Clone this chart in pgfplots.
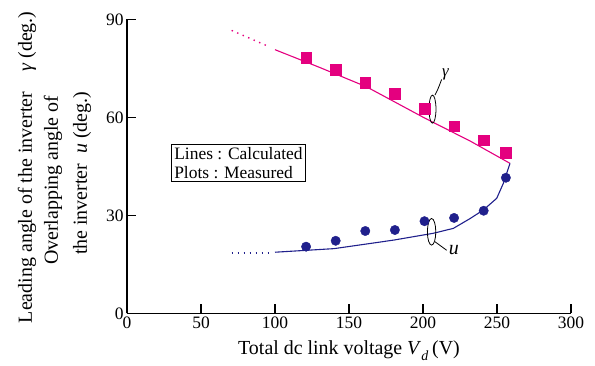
\documentclass[border=0pt]{standalone}
\usepackage{pgfplots}
\pgfplotsset{compat=1.18}
\usepackage{fontspec}
\setmainfont{Liberation Serif}
\definecolor{mag}{RGB}{228,0,127}
\definecolor{navy}{RGB}{32,32,140}
\begin{document}
\begin{tikzpicture}[x=1bp,y=1bp]
\useasboundingbox (-127,-51.7) rectangle (468,313.3);
\begin{axis}[
  at={(0,0)}, anchor=south west,
  scale only axis, width=444bp, height=294bp,
  xmin=0, xmax=300, ymin=0, ymax=90,
  axis lines=left, axis line style={line width=1.3pt,-},
  xtick={0,50,...,300}, ytick={0,30,60,90},
  tick style={line width=1.3pt, black},
  major tick length=9bp,
  tick align=inside,
  tick label style={font=\fontsize{17.5}{20}\selectfont},
  /pgf/number format/assume math mode=true,
  xlabel={Total dc link voltage \textit{V}\raisebox{-0.35ex}{\textsubscript{\textit{d}}}\,(V)},
  xlabel style={font=\fontsize{20}{24}\selectfont, yshift=-5bp},
  clip=false,
]
% calculated gamma
\addplot[mag, line width=1.1pt] coordinates {(100,80.7) (130,75.3) (162,69.3) (201,59.8) (232,52.7) (258.8,45.9)};
\addplot[mag, line width=1.4pt, dash pattern=on 1.4pt off 4.6pt] coordinates {(70.7,86.6) (96.6,81.5)};
% calculated u
\addplot[navy, line width=1.1pt] coordinates {(100,18.7) (140,19.8) (180,22.4) (207,24.5) (220.5,26) (231.8,29.0) (240.7,31.6) (249.8,35.2) (254.3,39.8) (258.8,45.9)};
\addplot[navy, line width=1.4pt, dash pattern=on 1.4pt off 4.6pt] coordinates {(70.7,18.5) (96.6,18.5)};
% measured gamma
\addplot[only marks, mark=square*, mark size=5.3bp, mag, mark options={fill=mag, draw=mag}] coordinates {(121,78.3) (141,74.6) (161,70.6) (181,67.3) (201,62.7) (221,57.3) (241,53.0) (256,49.2)};
% measured u
\addplot[only marks, mark=*, mark size=4.7bp, navy, mark options={fill=navy, draw=navy}] coordinates {(121,20.4) (141,22.2) (161,25.2) (181,25.5) (201,28.2) (221,29.2) (241,31.4) (256,41.5)};
% annotations
\draw[line width=0.8pt] (axis cs:206.4,62.5) ellipse [x radius=3.5bp, y radius=14bp];
\draw[line width=0.8pt] (axis cs:208.1,66.8) .. controls (axis cs:210,68.5) .. (axis cs:212.6,71.6);
\node[font=\fontsize{17}{20}\selectfont\itshape, inner sep=0pt] at (axis cs:215.2,73.2) {γ};
\draw[line width=0.8pt] (axis cs:205.8,24.95) ellipse [x radius=4.2bp, y radius=13.3bp];
\draw[line width=0.8pt] (axis cs:208.1,21.9) -- (axis cs:216,19.3);
\node[font=\fontsize{20}{24}\selectfont\itshape, inner sep=0pt] at (axis cs:220.8,19.3) {u};
\node[draw, line width=1pt, align=left, inner sep=2.5bp, font=\fontsize{17.5}{19}\selectfont] at (axis cs:75.3,46.0) {Lines : Calculated\\Plots : Measured};
\end{axis}
\node[rotate=90, font=\fontsize{20}{24}\selectfont] at (-100,146) {Leading angle of the inverter\quad\textit{γ} (deg.)};
\node[rotate=90, font=\fontsize{20}{24}\selectfont] at (-74,133) {Overlapping angle of};
\node[rotate=90, font=\fontsize{20}{24}\selectfont] at (-45,140) {the inverter\enspace\textit{u} (deg.)};
\end{tikzpicture}
\end{document}
